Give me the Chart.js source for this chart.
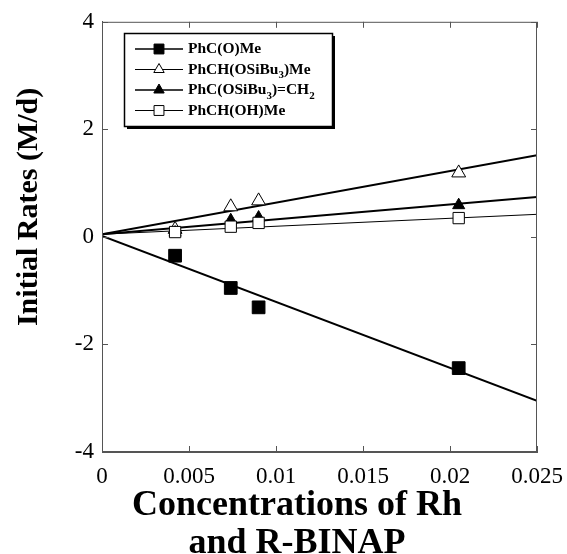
<!DOCTYPE html>
<html>
<head>
<meta charset="utf-8">
<script src="https://cdn.jsdelivr.net/npm/chart.js@4.4.1/dist/chart.umd.min.js"></script>
<style>
  body { margin: 0; background: #fff; }
  canvas { display: block; }
</style>
</head>
<body>
<canvas id="rateChart" width="567" height="554"></canvas>
<script>
// Axis ticks
const xTickValues = [0, 0.005, 0.01, 0.015, 0.02, 0.025];
const xTickLabels = ['0', '0.005', '0.01', '0.015', '0.02', '0.025'];
const yTickValues = [-4, -2, 0, 2, 4];

// Measured points (x = concentration, y = initial rate)
const ketoneX = [0.0042, 0.0074, 0.009, 0.0205];
const ketoneY = [-0.35, -0.95, -1.31, -2.44];
const silylEtherX = [0.0042, 0.0074, 0.009, 0.0205];
const silylEtherY = [0.14, 0.56, 0.67, 1.19];
const enolEtherX = [0.0042, 0.0074, 0.009, 0.0205];
const enolEtherY = [0.08, 0.31, 0.36, 0.59];
const alcoholX = [0.0042, 0.0074, 0.009, 0.0205];
const alcoholY = [0.09, 0.19, 0.26, 0.35];

// Fitted lines, end points at x = 0 and x = 0.025
const fitX = [0, 0.025];
const ketoneFit = [0.02, -3.05];
const silylEtherFit = [0.05, 1.52];
const enolEtherFit = [0.05, 0.74];
const alcoholFit = [0.05, 0.42];

const serif = '"Liberation Serif", "Times New Roman", serif';

function toPoints(xs, ys) {
    return xs.map((x, i) => ({ x: x, y: ys[i] }));
}

function fitLine(ys, width) {
    return {
        data: toPoints(fitX, ys),
        showLine: true,
        borderColor: '#000',
        borderWidth: width,
        pointRadius: 0,
        order: 5
    };
}

function markers(xs, ys, style, radius, fill, order) {
    return {
        data: toPoints(xs, ys),
        showLine: false,
        pointStyle: style,
        pointRadius: radius,
        pointBackgroundColor: fill,
        pointBorderColor: '#000',
        pointBorderWidth: 1,
        order: order
    };
}

// Legend entries: label pieces, subscripts marked with sub: true
const legendItems = [
    { parts: [{ t: 'PhC(O)Me' }], style: 'rect', fill: '#000', radius: 7, line: 1.5 },
    { parts: [{ t: 'PhCH(OSiBu' }, { t: '3', sub: true }, { t: ')Me' }], style: 'triangle', fill: '#fff', radius: 6, line: 1 },
    { parts: [{ t: 'PhC(OSiBu' }, { t: '3', sub: true }, { t: ')=CH' }, { t: '2', sub: true }], style: 'triangle', fill: '#000', radius: 6, line: 1.5 },
    { parts: [{ t: 'PhCH(OH)Me' }], style: 'rect', fill: '#fff', radius: 7, line: 1 }
];

const framePlugin = {
    id: 'frame',
    afterDatasetsDraw(chart) {
        const ctx = chart.ctx;
        const a = chart.chartArea;
        const xs = chart.scales.x;
        const ys = chart.scales.y;
        ctx.save();
        ctx.strokeStyle = '#555';
        ctx.lineWidth = 1;
        ctx.strokeRect(a.left + 0.5, a.top + 0.5, a.right - a.left - 1, a.bottom - a.top - 1);
        ctx.beginPath();
        xTickValues.forEach(v => {
            const px = Math.round(xs.getPixelForValue(v)) + 0.5;
            ctx.moveTo(px, a.bottom);
            ctx.lineTo(px, a.bottom - 6);
            ctx.moveTo(px, a.top);
            ctx.lineTo(px, a.top + 6);
        });
        yTickValues.forEach(v => {
            const py = Math.round(ys.getPixelForValue(v)) + 0.5;
            ctx.moveTo(a.left, py);
            ctx.lineTo(a.left + 6, py);
            ctx.moveTo(a.right, py);
            ctx.lineTo(a.right - 6, py);
        });
        ctx.stroke();
        ctx.restore();
    }
};

const legendPlugin = {
    id: 'subLegend',
    afterDraw(chart) {
        const ctx = chart.ctx;
        const box = { x: 124, y: 33, w: 208, h: 93 };
        ctx.save();
        // shadow
        ctx.fillStyle = '#000';
        ctx.fillRect(box.x + 3, box.y + 3, box.w, box.h);
        ctx.fillStyle = '#fff';
        ctx.fillRect(box.x, box.y, box.w, box.h);
        ctx.strokeStyle = '#000';
        ctx.lineWidth = 1.5;
        ctx.strokeRect(box.x + 0.5, box.y + 0.5, box.w, box.h);

        legendItems.forEach((item, i) => {
            const y = box.y + 16 + i * 20.5;
            ctx.strokeStyle = '#000';
            ctx.lineWidth = item.line;
            ctx.beginPath();
            ctx.moveTo(135, y);
            ctx.lineTo(183, y);
            ctx.stroke();
            ctx.fillStyle = item.fill;
            ctx.lineWidth = 1;
            Chart.helpers.drawPoint(ctx, { pointStyle: item.style, radius: item.radius, rotation: 0, borderWidth: 1 }, 159, y);
            ctx.fillStyle = '#000';
            ctx.textBaseline = 'middle';
            let x = 188;
            item.parts.forEach(p => {
                ctx.font = p.sub ? 'bold 11px ' + serif : 'bold 15.5px ' + serif;
                ctx.fillText(p.t, x, p.sub ? y + 6 : y);
                x += ctx.measureText(p.t).width;
            });
        });
        ctx.restore();
    }
};

new Chart(document.getElementById('rateChart'), {
    type: 'scatter',
    data: {
        datasets: [
            fitLine(ketoneFit, 2),
            fitLine(silylEtherFit, 2),
            fitLine(enolEtherFit, 2),
            fitLine(alcoholFit, 1),
            markers(ketoneX, ketoneY, 'rect', 9, '#000', 4),
            markers(silylEtherX, silylEtherY, 'triangle', 8, '#fff', 3),
            markers(enolEtherX, enolEtherY, 'triangle', 7, '#000', 2),
            markers(alcoholX, alcoholY, 'rect', 8, '#fff', 1)
        ]
    },
    options: {
        responsive: false,
        animation: false,
        layout: { padding: { top: 20, right: 30, left: 0, bottom: 0 } },
        plugins: {
            legend: { display: false },
            tooltip: { enabled: false }
        },
        scales: {
            x: {
                type: 'linear',
                min: 0,
                max: 0.025,
                afterBuildTicks(scale) {
                    scale.ticks = xTickValues.map(v => ({ value: v }));
                },
                afterFit(scale) {
                    scale.height = 102;
                    scale.paddingLeft = 0;
                    scale.paddingRight = 0;
                },
                grid: { drawOnChartArea: false, drawTicks: false },
                border: { display: true, color: '#555' },
                ticks: {
                    padding: 11,
                    color: '#000',
                    font: { family: serif, size: 23 },
                    maxRotation: 0,
                    callback: (v, i) => xTickLabels[i]
                },
                title: {
                    display: true,
                    // trailing spaces pull the centred title a little to the left
                    text: ['Concentrations of Rh     ', 'and R-BINAP     '],
                    color: '#000',
                    font: { family: serif, size: 36, weight: 'bold', lineHeight: 1.07 },
                    padding: { top: 0, bottom: -9 }
                }
            },
            y: {
                type: 'linear',
                min: -4,
                max: 4,
                afterBuildTicks(scale) {
                    scale.ticks = yTickValues.map(v => ({ value: v }));
                },
                afterFit(scale) { scale.width = 102; },
                grid: { drawOnChartArea: false, drawTicks: false },
                border: { display: true, color: '#555' },
                ticks: {
                    padding: 8,
                    color: '#000',
                    font: { family: serif, size: 23 }
                },
                title: {
                    display: true,
                    // leading spaces lift the title towards the top of the axis
                    text: '        Initial Rates (M/d)',
                    color: '#000',
                    font: { family: serif, size: 30, weight: 'bold', lineHeight: 1.2 },
                    padding: { top: 11, bottom: 0 }
                }
            }
        }
    },
    plugins: [framePlugin, legendPlugin]
});
</script>
</body>
</html>
